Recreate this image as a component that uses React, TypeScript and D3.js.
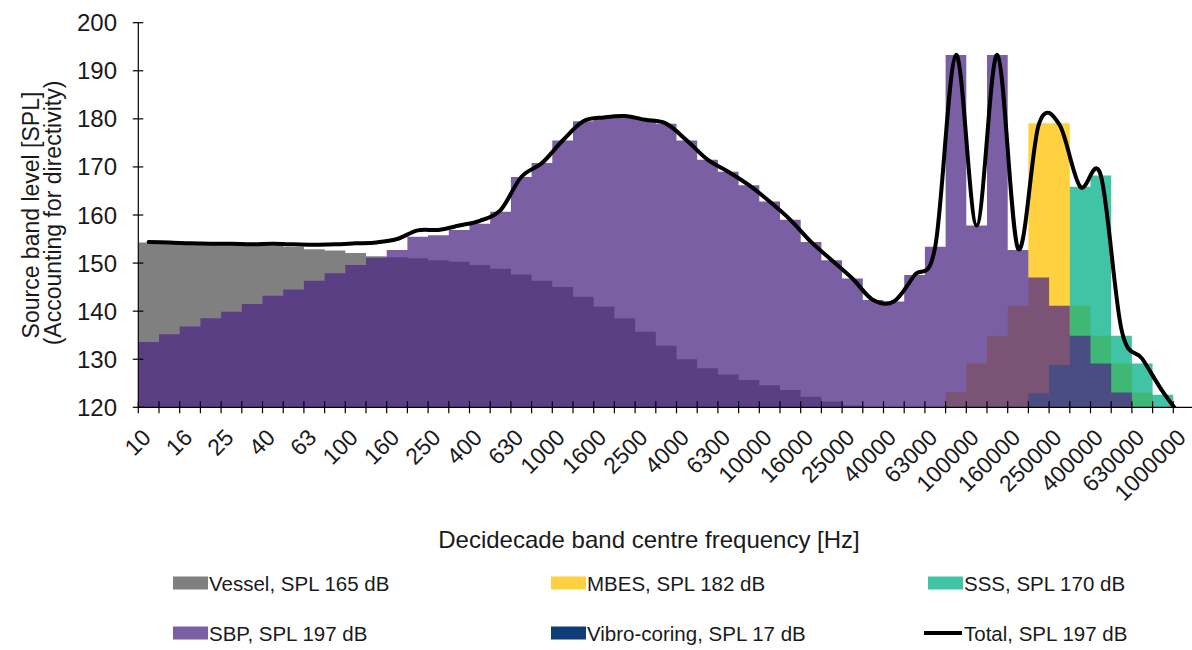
import React from "react";
import * as d3 from "d3";

// Decidecade band centre frequencies [Hz]
const bands: number[] = [
  10, 12.5, 16, 20, 25, 31.5, 40, 50, 63, 80,
  100, 125, 160, 200, 250, 315, 400, 500, 630, 800,
  1000, 1250, 1600, 2000, 2500, 3150, 4000, 5000, 6300, 8000,
  10000, 12500, 16000, 20000, 25000, 31500, 40000, 50000, 63000, 80000,
  100000, 125000, 160000, 200000, 250000, 315000, 400000, 500000, 630000, 800000,
  1000000,
];

// Band levels per source [dB re 1 µPa m]; null = no contribution above the axis floor
const vessel: (number | null)[] = [
  154.3, 154.2, 154.1, 154.0, 153.9, 153.8, 153.6, 153.4, 152.9, 152.6,
  152.1, 151.4, 151.2, 151.0, 150.6, 150.3, 149.6, 148.8, 147.6, 146.3,
  145.0, 143.0, 140.9, 138.5, 135.7, 132.8, 130.0, 128.1, 126.8, 125.7,
  124.6, 123.6, 122.2, 121.2, 120.4, null, null, null, null, null,
  null, null, null, null, null, null, null, null, null, null,
  null,
];

const mbes: (number | null)[] = [
  null, null, null, null, null, null, null, null, null, null,
  null, null, null, null, null, null, null, null, null, null,
  null, null, null, null, null, null, null, null, null, null,
  null, null, null, null, null, null, null, null, null, 123.2,
  129.1, 134.9, 141.1, 179.1, 179.1, 141.1, 134.9, 129.1, 123.1, null,
  null,
];

const sss: (number | null)[] = [
  null, null, null, null, null, null, null, null, null, null,
  null, null, null, null, null, null, null, null, null, null,
  null, null, null, null, null, null, null, null, null, null,
  null, null, null, null, null, null, null, null, null, null,
  null, null, null, 122.9, 128.8, 165.9, 168.2, 134.9, 129.1, 122.6,
  null,
];

const sbp: (number | null)[] = [
  133.6, 135.2, 136.8, 138.5, 139.9, 141.5, 143.2, 144.5, 146.3, 147.9,
  149.6, 151.1, 152.7, 155.5, 155.8, 156.9, 158.2, 160.7, 167.9, 170.8,
  175.5, 179.5, 180.3, 180.6, 179.8, 179.0, 175.5, 171.5, 169.0, 166.2,
  162.8, 159.0, 154.4, 150.6, 146.8, 142.3, 142.0, 147.5, 153.4, 193.3,
  157.8, 193.3, 152.7, 147.0, 141.1, 134.9, 129.1, 123.1, null, null,
  null,
];

// Vibro-coring sits below the 120 dB floor across the whole band range
const vibroCoring: (number | null)[] = [];

const total: number[] = [
  154.4, 154.3, 154.1, 154.0, 154.0, 153.9, 154.0, 153.9, 153.8, 153.9,
  154.1, 154.3, 155.0, 156.8, 156.9, 157.8, 158.8, 161.0, 167.9, 170.8,
  175.5, 179.5, 180.3, 180.6, 179.8, 179.0, 175.5, 171.5, 169.0, 166.2,
  162.8, 159.0, 154.4, 150.6, 146.8, 142.3, 142.0, 147.5, 153.4, 193.3,
  157.8, 193.3, 153.0, 178.8, 178.8, 165.9, 168.2, 136.1, 130.1, 123.2,
  117.5,
];

const yTicks = [120, 130, 140, 150, 160, 170, 180, 190, 200];

const barSeries = [
  { key: "vessel", values: vessel, fill: "#555555" },
  { key: "mbes", values: mbes, fill: "#ffc000" },
  { key: "sss", values: sss, fill: "#00b087" },
  { key: "sbp", values: sbp, fill: "#4e2a87" },
  { key: "vibro", values: vibroCoring, fill: "#0e3d78" },
];

const legendItems = [
  { label: "Vessel, SPL 165 dB", fill: "#555555", opacity: 0.75, line: false },
  { label: "MBES, SPL 182 dB", fill: "#ffc000", opacity: 0.75, line: false },
  { label: "SSS, SPL 170 dB", fill: "#00b087", opacity: 0.75, line: false },
  { label: "SBP, SPL 197 dB", fill: "#4e2a87", opacity: 0.75, line: false },
  { label: "Vibro-coring, SPL 17 dB", fill: "#0e3d78", opacity: 1, line: false },
  { label: "Total, SPL 197 dB", fill: "#000000", opacity: 1, line: true },
];

const FONT = "'Liberation Sans', Arial, sans-serif";
const TEXT = "#1a1a1a";

const X0 = 138.3;
const X1 = 1194;
const Y_TOP = 22.7;
const Y_BOT = 407.3;
const FLOOR = 120;

export default function App() {
  const keys = bands.map((b) => String(b));
  const x = d3.scaleBand<string>().domain(keys).range([X0, X1]).padding(0);
  const y = d3.scaleLinear().domain([FLOOR, 200]).range([Y_BOT, Y_TOP]);
  const bw = x.bandwidth();

  // Step-shaped outline for each series: one block per band, merged across runs
  const stepPath = (values: (number | null)[]) => {
    const p = d3.path();
    let open = false;
    let lastRight = 0;
    keys.forEach((k, i) => {
      const v = values[i];
      const left = x(k) as number;
      const right = left + bw;
      if (v == null || v <= FLOOR) {
        if (open) {
          p.lineTo(lastRight, y(FLOOR));
          p.closePath();
          open = false;
        }
        return;
      }
      if (!open) {
        p.moveTo(left, y(FLOOR));
        open = true;
      }
      p.lineTo(left, y(v));
      p.lineTo(right, y(v));
      lastRight = right;
    });
    if (open) {
      p.lineTo(lastRight, y(FLOOR));
      p.closePath();
    }
    return p.toString();
  };

  const totalLine = d3
    .line<number>()
    .x((_, i) => (x(keys[i]) as number) + bw / 2)
    .y((v) => y(v))
    .curve(d3.curveCardinal.tension(0))(total) as string;

  const legendCols = [173, 551, 928];
  const legendRows = [583, 633];

  return (
    <svg
      width={1192}
      height={650}
      style={{ position: "absolute", left: 0, top: 0, background: "#fff" }}
      fontFamily={FONT}
    >
      <defs>
        <clipPath id="plot-clip">
          <rect x={X0} y={0} width={X1 - X0} height={Y_BOT} />
        </clipPath>
      </defs>

      {/* overlapping bars, later series painted on top */}
      <g clipPath="url(#plot-clip)">
        {barSeries.map((s) => (
          <path key={s.key} d={stepPath(s.values)} fill={s.fill} fillOpacity={0.75} />
        ))}
        <path
          d={totalLine}
          fill="none"
          stroke="#000"
          strokeWidth={4}
          strokeLinejoin="round"
          strokeLinecap="round"
        />
      </g>

      {/* y axis */}
      <line x1={X0} x2={X0} y1={Y_TOP} y2={Y_BOT} stroke="#000" strokeWidth={1.2} />
      {yTicks.map((t) => (
        <g key={t}>
          <line x1={X0 - 5.5} x2={X0 + 5} y1={y(t)} y2={y(t)} stroke="#000" strokeWidth={1.2} />
          <text
            x={117}
            y={y(t)}
            textAnchor="end"
            dominantBaseline="central"
            fontSize={24}
            fill={TEXT}
          >
            {t}
          </text>
        </g>
      ))}

      {/* x axis */}
      <line x1={X0} x2={X1} y1={Y_BOT} y2={Y_BOT} stroke="#000" strokeWidth={1.2} />
      {keys.map((k) => (
        <line
          key={"t" + k}
          x1={x(k) as number}
          x2={x(k) as number}
          y1={Y_BOT - 6}
          y2={Y_BOT + 6}
          stroke="#000"
          strokeWidth={1.2}
        />
      ))}
      {keys.map((k, i) =>
        i % 2 === 0 ? (
          <text
            key={"l" + k}
            transform={`translate(${(x(k) as number) + bw / 2 - 2},${Y_BOT + 26}) rotate(-45)`}
            textAnchor="end"
            dominantBaseline="central"
            fontSize={23}
            fill={TEXT}
          >
            {k}
          </text>
        ) : null
      )}

      {/* axis titles */}
      <text x={649} y={539} textAnchor="middle" dominantBaseline="central" fontSize={24} fill={TEXT}>
        Decidecade band centre frequency [Hz]
      </text>
      <text
        transform="translate(31,215) rotate(-90)"
        textAnchor="middle"
        dominantBaseline="central"
        fontSize={23}
        fill={TEXT}
      >
        Source band level [SPL]
      </text>
      <text
        transform="translate(53,213) rotate(-90)"
        textAnchor="middle"
        dominantBaseline="central"
        fontSize={23}
        fill={TEXT}
      >
        (Accounting for directivity)
      </text>

      {/* legend */}
      {legendItems.map((it, i) => {
        const cx = legendCols[i % 3];
        const cy = legendRows[Math.floor(i / 3)];
        return (
          <g key={it.label}>
            {it.line ? (
              <line x1={cx - 4} x2={cx + 34} y1={cy} y2={cy} stroke="#000" strokeWidth={4} />
            ) : (
              <rect x={cx} y={cy - 6.5} width={35} height={13} fill={it.fill} fillOpacity={it.opacity} />
            )}
            <text x={cx + 36} y={cy} dominantBaseline="central" fontSize={20.5} fill={TEXT}>
              {it.label}
            </text>
          </g>
        );
      })}
    </svg>
  );
}
